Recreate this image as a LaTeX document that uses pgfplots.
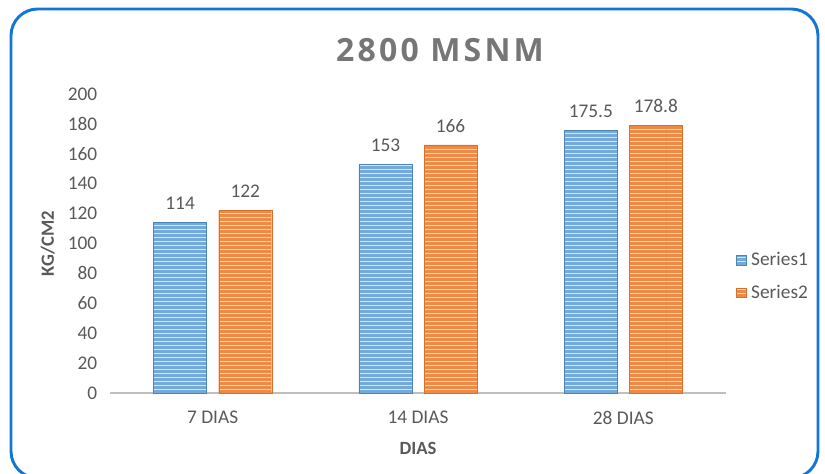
\documentclass[border=0pt]{standalone}
\usepackage{pgfplots}
\pgfplotsset{compat=1.18}
\usepackage{fontspec}
\setmainfont{Carlito}
\newfontfamily\titlefont{Open Sans}
\usetikzlibrary{patterns}
\definecolor{sone}{RGB}{91,155,213}
\definecolor{stwo}{RGB}{237,125,49}
\definecolor{txt}{RGB}{89,89,89}
\definecolor{ttl}{RGB}{118,118,118}
\definecolor{brd}{RGB}{18,118,215}
\begin{document}
\begin{tikzpicture}
\useasboundingbox (0,0) rectangle (618.75pt,355.5pt);
\begin{scope}
\clip (0,0) rectangle (618.75pt,355.5pt);
\draw[brd,line width=2.2pt,rounded corners=20pt] (8.25pt,-3pt) rectangle (613.5pt,348.75pt);
\end{scope}
\node[ttl,font=\titlefont\fontsize{24}{28}\selectfont\bfseries\addfontfeature{LetterSpace=10}] at (330pt,318pt) {2800 MSNM};
\begin{axis}[
  at={(82.5pt,60.75pt)}, anchor=south west,
  scale only axis, width=462pt, height=224.25pt,
  xmin=-0.5, xmax=2.5, ymin=0, ymax=200,
  xtick={0,1,2}, xticklabels={7 DIAS,14 DIAS,28 DIAS},
  ytick={0,20,...,200},
  axis x line*=bottom, axis y line*=left,
  y axis line style={draw=none},
  x axis line style={draw=black!25,line width=1.5pt,-},
  xtick style={draw=none}, ytick style={draw=none},
  tick label style={font=\fontsize{14.5}{17}\selectfont,text=txt},
  yticklabel style={xshift=-6pt},
  xticklabel style={yshift=-6pt},
  /pgf/number format/assume math mode=true,
  ybar, bar width=39.75pt,
  clip=false,
  xlabel={\textbf{DIAS}}, xlabel style={font=\fontsize{14}{17}\selectfont,text=txt,yshift=-6pt},
  ylabel={\textbf{KG/CM2}}, ylabel style={font=\fontsize{14}{17}\selectfont,text=txt,yshift=3pt},
  nodes near coords,
  every node near coord/.append style={font=\fontsize{14.5}{17}\selectfont,text=txt,yshift=6pt},
  legend style={at={(1.015,0.475)},anchor=north west,draw=none,fill=none,
     font=\fontsize{14.5}{17}\selectfont,text=txt,row sep=11pt,column sep=3pt,inner sep=0pt,
     nodes={inner sep=1pt}},
  legend cell align=left,
  legend image code/.code={\fill[#1] (0pt,-3.5pt) rectangle (7.5pt,3.5pt);},
]
\addplot[bar shift=-24.4pt, draw=sone!85!black, line width=0.3pt, fill=sone!85!white,
  postaction={pattern=horizontal lines, pattern color=white!75!sone}]
  coordinates {(0,114) (1,153) (2,175.5)};
\addplot[bar shift=24.4pt, draw=stwo!90!black, line width=0.3pt, fill=stwo!90!white,
  postaction={pattern=horizontal lines, pattern color=white!70!stwo}]
  coordinates {(0,122) (1,166) (2,178.8)};
\legend{Series1,Series2}
\end{axis}
\end{tikzpicture}
\end{document}
